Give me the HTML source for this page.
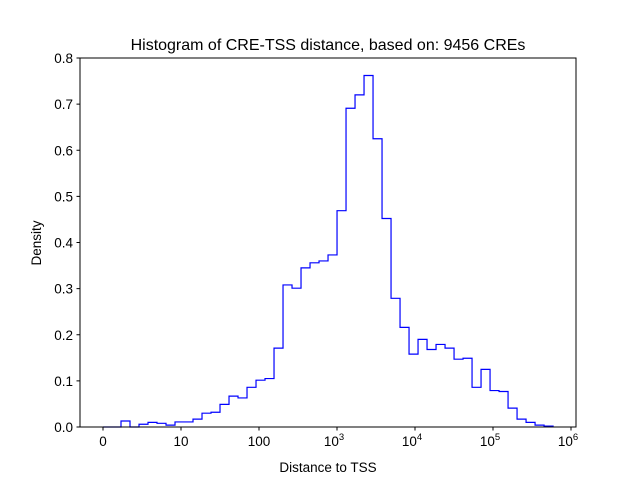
<!DOCTYPE html>
<html><head><meta charset="utf-8"><style>
html,body{margin:0;padding:0;background:#fff;}
svg{display:block;font-family:"Liberation Sans","DejaVu Sans",sans-serif;}
</style></head><body>
<svg id="chart" width="640" height="480" viewBox="0 0 640 480">
<text x="328" y="50" font-size="16" text-anchor="middle">Histogram of CRE-TSS distance, based on: 9456 CREs</text>
<g id="plot"></g>
<rect x="80" y="58" width="496" height="369" fill="none" stroke="#000" stroke-width="1"/>
<text x="328" y="472" font-size="13.5" text-anchor="middle">Distance to TSS</text>
<text x="41" y="243" font-size="13.5" text-anchor="middle" transform="rotate(-90 41 243)">Density</text>
</svg>
<script>
const densities=[0,0,0.013,0,0.006,0.010,0.008,0.004,0.011,0.011,0.017,0.030,0.032,0.049,0.067,0.063,0.086,0.1015,0.105,0.171,0.308,0.301,0.345,0.356,0.360,0.373,0.469,0.691,0.720,0.762,0.625,0.452,0.279,0.216,0.158,0.190,0.168,0.179,0.171,0.147,0.149,0.086,0.125,0.079,0.077,0.041,0.017,0.010,0.004,0.002];
const rangeMaxT=5.77;
const xTickValues=[0,10,100,1000,10000,100000,1000000];
const xTickLabels=[["0",""],["10",""],["100",""],["10","3"],["10","4"],["10","5"],["10","6"]];
const yTickValues=[0,0.1,0.2,0.3,0.4,0.5,0.6,0.7,0.8];
const yTickLabels=["0.0","0.1","0.2","0.3","0.4","0.5","0.6","0.7","0.8"];

const NS="http://www.w3.org/2000/svg";
const g=document.getElementById('plot');
function tr(v){return v<=10? v/10 : 1+Math.log10(v/10);}
function xT(t){return 103+78*t;}
function xScale(v){return xT(tr(v));}
function yScale(v){return 427-v*461.25;}
function mk(tag,attrs){const e=document.createElementNS(NS,tag);for(const k in attrs)e.setAttribute(k,attrs[k]);return e;}

const n=densities.length,w=rangeMaxT/n;
let d="M"+xT(0)+","+yScale(0);
for(let i=0;i<n;i++){
  const x0=xT(i*w),x1=xT((i+1)*w),y=yScale(densities[i]);
  d+=" L"+x0+","+y+" L"+x1+","+y;
}
d+=" L"+xT(rangeMaxT)+","+yScale(0);
const p=mk('path',{d:d,fill:'none',stroke:'#0000ff','stroke-width':1.2});


g.appendChild(p);

xTickValues.forEach((v,i)=>{
  const x=xScale(v);
  const l=mk('line',{x1:x,x2:x,y1:427,y2:430.5,stroke:'#000'});
  
  
  g.appendChild(l);
  const t=mk('text',{x:x,y:446,'font-size':13.5,'text-anchor':'middle'});
  
  
  t.textContent=xTickLabels[i][0];
  if(xTickLabels[i][1]){
    t.setAttribute('x',x-3);
    const s=mk('tspan',{'font-size':9.5,dy:-6});
    s.textContent=xTickLabels[i][1];
    t.appendChild(s);
  }
  g.appendChild(t);
});
yTickValues.forEach((v,i)=>{
  const y=yScale(v);
  const l=mk('line',{x1:76.5,x2:80,y1:y,y2:y,stroke:'#000'});
  
  
  g.appendChild(l);
  const t=mk('text',{x:73,y:y+5,'font-size':13.5,'text-anchor':'end'});
  
  
  t.textContent=yTickLabels[i];
  g.appendChild(t);
});
</script>
</body></html>
